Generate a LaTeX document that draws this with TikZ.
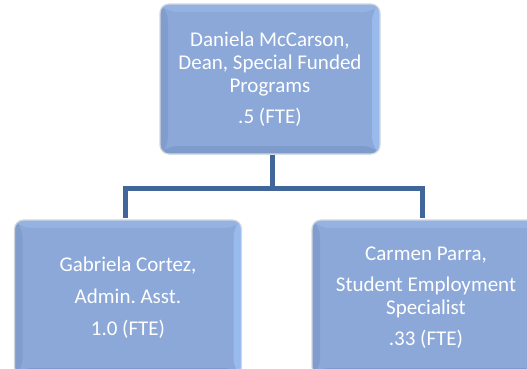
\documentclass[tikz,border=0pt]{standalone}
\usepackage{fontspec}
\setmainfont{Carlito}
\frenchspacing
\definecolor{boxface}{RGB}{139,168,216}
\definecolor{bvtop}{RGB}{148,178,226}
\definecolor{bvleft}{RGB}{128,157,206}
\definecolor{bvright}{RGB}{152,186,236}
\definecolor{bvbottom}{RGB}{126,155,203}
\definecolor{boxglow}{RGB}{210,214,222}
\definecolor{linkblue}{RGB}{65,103,154}
\tikzset{
  orgbox/.style={rectangle, rounded corners=9pt, fill=boxface,
    draw=boxglow, line width=1.2pt,
    text=white, align=center, font=\fontsize{21}{23}\selectfont,
    inner sep=0pt,
    path picture={
      \coordinate (pa) at (path picture bounding box.north west);
      \coordinate (pb) at (path picture bounding box.north east);
      \coordinate (pc) at (path picture bounding box.south east);
      \coordinate (pd) at (path picture bounding box.south west);
      \fill[bvtop] (pa) -- (pb) -- ([shift={(-8pt,-8pt)}]pb) -- ([shift={(8pt,-8pt)}]pa) -- cycle;
      \fill[bvright] (pb) -- (pc) -- ([shift={(-8pt,8pt)}]pc) -- ([shift={(-8pt,-8pt)}]pb) -- cycle;
      \fill[bvbottom] (pc) -- (pd) -- ([shift={(8pt,8pt)}]pd) -- ([shift={(-8pt,8pt)}]pc) -- cycle;
      \fill[bvleft] (pd) -- (pa) -- ([shift={(8pt,-8pt)}]pa) -- ([shift={(8pt,8pt)}]pd) -- cycle;
    }},
  link/.style={draw=linkblue, line width=5pt}
}
\begin{document}
\begin{tikzpicture}[x=1pt,y=-1pt]
\useasboundingbox (0,0) rectangle (527,368);
\clip (0,0) rectangle (527,368);
\node[orgbox, minimum width=220pt, minimum height=150pt] (top) at (270,79)
  {Daniela McCarson,\\Dean, Special Funded\\Programs\\[8pt].5 (FTE)};
\node[orgbox, minimum width=227pt, minimum height=156pt] (left) at (128,298)
  {Gabriela Cortez,\\[9pt]Admin. Asst.\\[9pt]1.0 (FTE)};
\node[orgbox, minimum width=228pt, minimum height=156pt] (right) at (426,298)
  {Carmen Parra,\\[8pt]Student Employment\\Specialist\\[8pt].33 (FTE)};
\coordinate (junction) at (272,188);
\draw[link] (top.south -| junction) -- (junction);
\draw[link] (125,218) |- (junction) -| (422,218);
\end{tikzpicture}
\end{document}
